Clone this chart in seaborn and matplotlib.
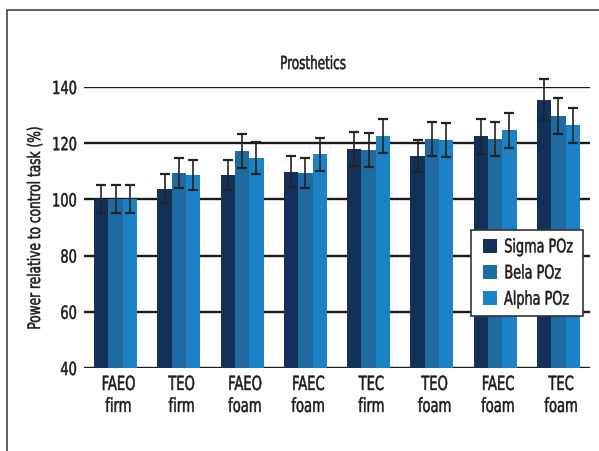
import matplotlib
matplotlib.use("Agg")
import matplotlib.pyplot as plt
from matplotlib.lines import Line2D
from matplotlib.patches import Rectangle
from matplotlib.patheffects import AbstractPathEffect
from matplotlib.transforms import Affine2D, ScaledTranslation
import pandas as pd
import seaborn as sns

conditions = ["FAEO\nfirm", "TEO\nfirm", "FAEO\nfoam", "FAEC\nfoam",
              "TEC\nfirm", "TEO\nfoam", "FAEC\nfoam", "TEC\nfoam"]
series = ["Sigma POz", "Bela POz", "Alpha POz"]

sigma_mean = [100.0, 103.8, 108.7, 109.8, 117.9, 115.4, 122.5, 135.4]
bela_mean = [100.0, 109.4, 117.2, 109.4, 117.5, 121.4, 121.4, 129.6]
alpha_mean = [100.0, 108.7, 114.7, 116.0, 122.5, 121.1, 124.6, 126.4]

sigma_err = [5.0, 5.1, 5.3, 5.5, 6.0, 5.7, 6.2, 7.3]
bela_err = [5.0, 5.4, 6.0, 5.4, 6.0, 6.1, 6.1, 6.5]
alpha_err = [5.0, 5.4, 5.8, 5.8, 6.0, 6.1, 6.3, 6.3]

colors = ["#12315a", "#1f6aa0", "#1b82c6"]
ink = "#1a1a1a"


class Squeeze(AbstractPathEffect):
    """Narrow the glyph run along its own baseline, for a condensed look."""

    def __init__(self, sx, anchor="center", stroke=0.35):
        super().__init__()
        self.sx = sx
        self.anchor = anchor
        self.stroke = stroke

    def draw_path(self, renderer, gc, tpath, affine, rgbFace=None):
        ext = tpath.get_extents()
        if self.anchor == "left":
            cx = ext.x0
        elif self.anchor == "right":
            cx = ext.x1
        else:
            cx = 0.5 * (ext.x0 + ext.x1)
        t = Affine2D().translate(-cx, 0).scale(self.sx, 1).translate(cx, 0) + affine
        gc2 = renderer.new_gc()
        gc2.copy_properties(gc)
        if rgbFace is not None:
            gc2.set_foreground(rgbFace)
        gc2.set_linewidth(self.stroke)
        renderer.draw_path(gc2, tpath, t, rgbFace)
        gc2.restore()


sns.set_theme(style="white")
plt.rcParams["font.family"] = ["DejaVu Sans"]
plt.rcParams["font.stretch"] = "condensed"

# two conditions share a label, so bars are keyed by slot number
slots = list(range(len(conditions)))
df = pd.DataFrame({
    "slot": slots * 3,
    "series": [s for s in series for _ in conditions],
    "value": sigma_mean + bela_mean + alpha_mean,
})
errs = [sigma_err, bela_err, alpha_err]

fig = plt.figure(figsize=(5.99, 4.52), dpi=100)
ax = fig.add_axes([84 / 599, 1 - 369 / 452, 506 / 599, 281 / 452])

sns.barplot(data=df, x="slot", y="value", hue="series", order=slots,
            hue_order=series, palette=colors, errorbar=None, width=0.68,
            saturation=1, linewidth=0, ax=ax)

for container, err in zip(ax.containers, errs):
    xs = [b.get_x() + b.get_width() / 2 for b in container]
    ys = [b.get_height() for b in container]
    eb = ax.errorbar(xs, ys, yerr=err, fmt="none", ecolor="#222222",
                     elinewidth=1.2, capsize=3.8, capthick=1.6, zorder=5)
    for art in list(eb.lines[1]) + list(eb.lines[2]):
        art.set_clip_on(False)

ax.set_ylim(40, 140)
ax.set_xlim(-0.5, len(conditions) - 0.5)
ax.set_xticks(slots)
ax.set_xticklabels(conditions, linespacing=1.2)
ax.set_yticks([40, 60, 80, 100, 120, 140])
ax.yaxis.grid(True, color=ink, linewidth=1.7)
ax.set_axisbelow(True)
for sp in ax.spines.values():
    sp.set_visible(False)
ax.tick_params(axis="x", length=0, labelsize=14, colors=ink, pad=5)
ax.tick_params(axis="y", length=0, labelsize=13, colors=ink, pad=5)
ax.set_xlabel("")

shift = ScaledTranslation(3 / 100, 0, fig.dpi_scale_trans)
for lab in ax.get_xticklabels():
    lab.set_path_effects([Squeeze(0.75, "center")])
    lab.set_transform(lab.get_transform() + shift)
for lab in ax.get_yticklabels():
    lab.set_path_effects([Squeeze(0.8, "right")])

ylab = ax.set_ylabel("Power relative to control task (%)", fontsize=12.5, color=ink)
ylab.set_path_effects([Squeeze(0.78, "center")])
ax.yaxis.set_label_coords((44 - 84) / 506, 0.5)

# legend entries without their own frame; the box is drawn separately
leg = ax.legend(loc="center left", bbox_to_anchor=((483 - 84) / 506, (369 - 274) / 281),
                borderaxespad=0, borderpad=0, frameon=False, fontsize=13.5,
                handlelength=0.72, handleheight=0.72, handletextpad=0.4,
                labelspacing=0.38)
for t in leg.get_texts():
    t.set_color(ink)
    t.set_path_effects([Squeeze(0.76, "left")])
leg.set_zorder(8)
ax.add_patch(Rectangle((471 / 599, 1 - 317 / 452), 112 / 599, 86 / 452,
                       transform=fig.transFigure, facecolor="white",
                       edgecolor="#333333", linewidth=1.2, zorder=7, clip_on=False))

title = fig.text(313 / 599, 1 - 65 / 452, "Prosthetics", ha="center", va="center",
                 fontsize=13, color=ink)
title.set_path_effects([Squeeze(0.74, "center")])

fig.add_artist(Line2D([7 / 599, 7 / 599], [0, 1 - 11 / 452], color="#444444", lw=1.2))
fig.add_artist(Line2D([7 / 599, 1], [1 - 11 / 452, 1 - 11 / 452], color="#444444", lw=1.2))

fig.savefig("out.png", dpi=100)
